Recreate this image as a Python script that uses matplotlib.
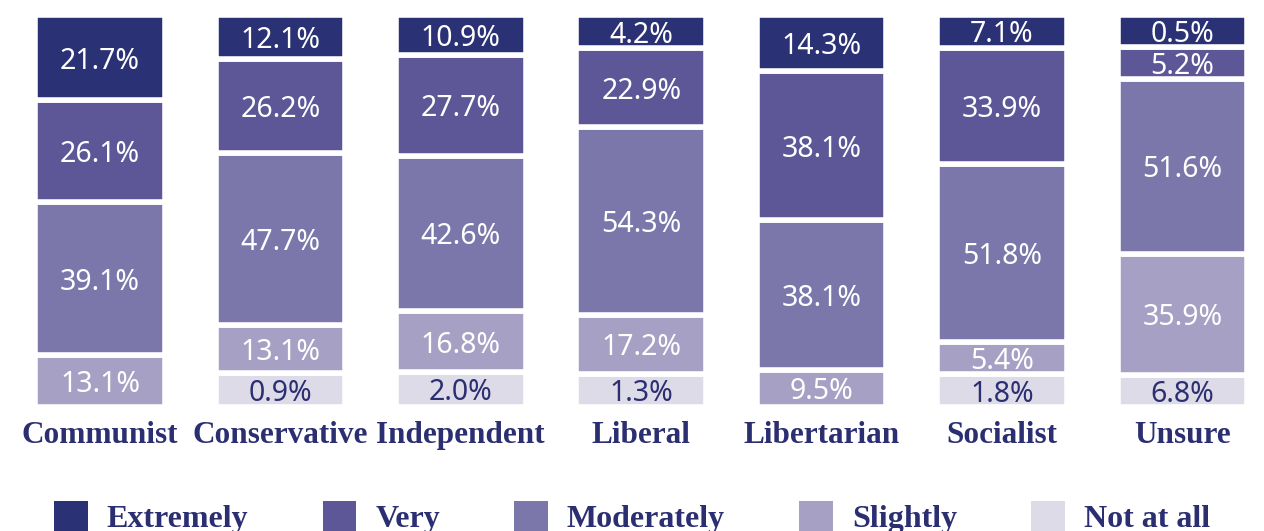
import numpy as np
import matplotlib.pyplot as plt
from matplotlib.patches import Patch

# Share of respondents by party, stacked bars
parties = ["Communist", "Conservative", "Independent", "Liberal",
           "Libertarian", "Socialist", "Unsure"]
levels = ["Extremely", "Very", "Moderately", "Slightly", "Not at all"]
extremely = [21.7, 12.1, 10.9, 4.2, 14.3, 7.1, 0.5]
very = [26.1, 26.2, 27.7, 22.9, 38.1, 33.9, 5.2]
moderately = [39.1, 47.7, 42.6, 54.3, 38.1, 51.8, 51.6]
slightly = [13.1, 13.1, 16.8, 17.2, 9.5, 5.4, 35.9]
not_at_all = [0.0, 0.9, 2.0, 1.3, 0.0, 1.8, 6.8]

colors = ["#2b3175", "#5d5797", "#7b77aa", "#a6a0c4", "#dedbe8"]
label_colors = ["white", "white", "white", "white", "#2b2f72"]
navy = "#2b2f72"

# small segments get a minimum visible height, as in the original graphic
MIN_SHOWN = 9.5

fig = plt.figure(figsize=(12.64, 5.31), dpi=100)
ax = fig.add_axes([0, 0.2339, 1, 0.7375])

x = np.arange(len(parties))
series = [not_at_all, slightly, moderately, very, extremely]  # bottom -> top
seg_colors = colors[::-1]
seg_text = label_colors[::-1]

vals = np.array(series)
shown = np.where(vals > 0, np.maximum(vals, MIN_SHOWN), 0.0)
shown = shown / shown.sum(axis=0) * 100

bottoms = np.zeros(len(parties))
for i in range(len(series)):
    ax.bar(x, shown[i], bottom=bottoms, width=0.718, color=seg_colors[i],
           edgecolor="white", linewidth=4)
    for j in range(len(parties)):
        if vals[i, j] > 0:
            ax.text(x[j], bottoms[j] + shown[i, j] / 2, f"{vals[i, j]:.1f}%",
                    ha="center", va="center_baseline", fontsize=20.5,
                    family="Noto Sans", fontweight="medium",
                    color=seg_text[i])
    bottoms += shown[i]

ax.set_xlim(-0.554, 6.452)
ax.set_ylim(0, 100)
ax.set_xticks(x, parties, family="Liberation Serif", fontweight="bold",
              fontsize=22.5, color=navy)
ax.tick_params(axis="x", length=0, pad=10)
ax.set_yticks([])
for s in ax.spines.values():
    s.set_visible(False)

handles = [Patch(facecolor=c) for c in colors]
fig.legend(handles, levels, loc="upper center", bbox_to_anchor=(0.5, 0.057),
           ncol=5, frameon=False, borderpad=0, borderaxespad=0,
           handlelength=1.05, handleheight=1.1, handletextpad=0.6,
           columnspacing=2.32,
           prop={"family": "Liberation Serif", "weight": "bold", "size": 23})
for t in fig.legends[0].get_texts():
    t.set_color(navy)

fig.savefig("out.png", dpi=100)
